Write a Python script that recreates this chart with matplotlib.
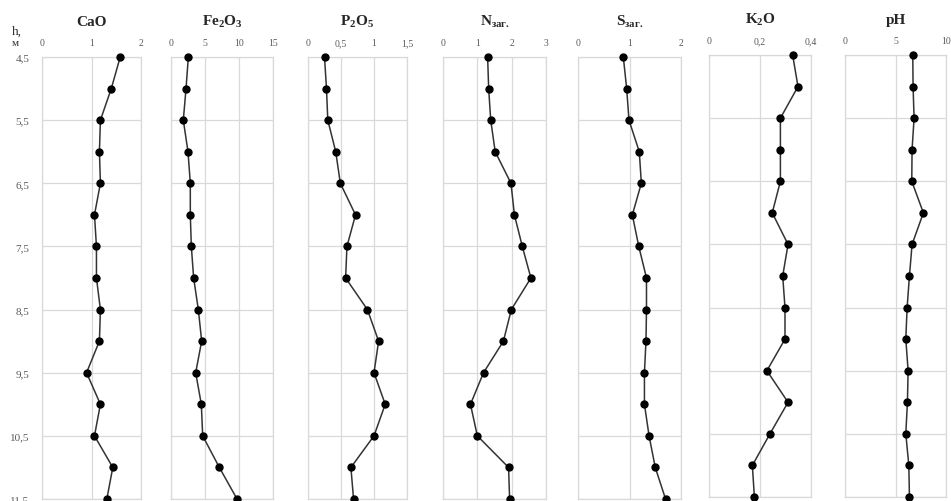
import matplotlib
matplotlib.use("Agg")
import matplotlib.pyplot as plt
import numpy as np

plt.rcParams['font.family'] = ['Liberation Serif', 'DejaVu Serif']
plt.rcParams['mathtext.fontset'] = 'custom'
plt.rcParams['mathtext.rm'] = 'Liberation Serif:bold'
plt.rcParams['mathtext.bf'] = 'Liberation Serif:bold'
plt.rcParams['mathtext.it'] = 'Liberation Serif:bold'

depth = [4.5, 5.0, 5.5, 6.0, 6.5, 7.0, 7.5, 8.0, 8.5, 9.0, 9.5, 10.0, 10.5, 11.0, 11.5]
depth_ticks = [4.5, 5.5, 6.5, 7.5, 8.5, 9.5, 10.5, 11.5]

cao = [1.58, 1.40, 1.18, 1.16, 1.18, 1.06, 1.10, 1.10, 1.18, 1.16, 0.90, 1.18, 1.06, 1.43, 1.31]
fe2o3 = [2.55, 2.21, 1.81, 2.50, 2.84, 2.84, 2.99, 3.33, 4.02, 4.51, 3.63, 4.46, 4.66, 7.11, 9.71]
p2o5 = [0.25, 0.28, 0.30, 0.42, 0.49, 0.72, 0.59, 0.57, 0.90, 1.07, 1.00, 1.17, 1.00, 0.65, 0.69]
n_zag = [1.30, 1.33, 1.39, 1.52, 1.98, 2.08, 2.31, 2.56, 1.99, 1.76, 1.18, 0.80, 1.00, 1.91, 1.94]
s_zag = [0.88, 0.945, 0.99, 1.19, 1.23, 1.055, 1.18, 1.33, 1.33, 1.32, 1.29, 1.29, 1.38, 1.50, 1.70]
k2o = [0.328, 0.349, 0.280, 0.280, 0.280, 0.248, 0.310, 0.289, 0.298, 0.298, 0.227, 0.310, 0.239, 0.170, 0.178]
ph = [6.71, 6.74, 6.84, 6.64, 6.61, 7.76, 6.64, 6.38, 6.15, 6.02, 6.25, 6.18, 6.02, 6.32, 6.38]

titles = ['CaO', r'Fe$_2$O$_3$', r'P$_2$O$_5$', r'N$_{заг.}$', r'S$_{заг.}$', r'K$_2$O', 'pH']
series = [cao, fe2o3, p2o5, n_zag, s_zag, k2o, ph]
xticks = [[0, 1, 2], [0, 5, 10, 15], [0, 0.5, 1, 1.5], [0, 1, 2, 3], [0, 1, 2], [0, 0.2, 0.4], [0, 5, 10]]
xlabels = [['0', '1', '2'], ['0', '5', '10', '15'], ['0', '0,5', '1', '1,5'], ['0', '1', '2', '3'],
           ['0', '1', '2'], ['0', '0,2', '0,4'], ['0', '5', '10']]

# panel pixel boxes: left, right, top
W, H = 951, 502
boxes = [(42, 141, 58), (171, 273, 58), (308, 407, 58), (443, 546, 58),
         (578, 681, 58), (709, 811, 56), (845, 946, 56)]
bottom_px = 500

fig = plt.figure(figsize=(W / 100, H / 100), dpi=100)
grid_c = '#d9d9d9'
lab_c = '#595959'

for i, (vals, title) in enumerate(zip(series, titles)):
    l, r, t = boxes[i]
    b = bottom_px - (58 - t)
    ax = fig.add_axes([l / W, 1 - b / H, (r - l) / W, (b - t) / H])
    ax.plot(vals, depth, color='#333333', lw=1.1, marker='o', ms=5,
            mfc='black', mec='black', clip_on=False, zorder=3)
    ax.set_xlim(xticks[i][0], xticks[i][-1])
    ax.set_ylim(11.5, 4.5)
    ax.xaxis.tick_top()
    ax.set_xticks(xticks[i])
    ax.set_xticklabels(xlabels[i])
    ax.set_yticks(depth_ticks)
    if i == 0:
        ax.set_yticklabels([str(d).replace('.', ',') for d in depth_ticks])
    else:
        ax.set_yticklabels([])
    ax.tick_params(axis='x', length=0, pad=7, labelsize=7, labelcolor=lab_c)
    ax.tick_params(axis='y', length=0, pad=9, labelsize=8, labelcolor=lab_c)
    ax.grid(True, color=grid_c, lw=0.9)
    ax.set_axisbelow(True)
    for sp in ax.spines.values():
        sp.set_color(grid_c)
        sp.set_linewidth(0.9)
    ax.text(0.5, 1 + 36 / (b - t), title, transform=ax.transAxes,
            ha='center', va='center', fontsize=11, fontweight='bold', color='#262626')

fig.text(12 / W, 1 - 32 / H, 'h,', fontsize=9.5, color='#333333', va='center', ha='left')
fig.text(12 / W, 1 - 44 / H, 'м', fontsize=8, color='#333333', va='center', ha='left')

fig.savefig('out.png', dpi=100)
